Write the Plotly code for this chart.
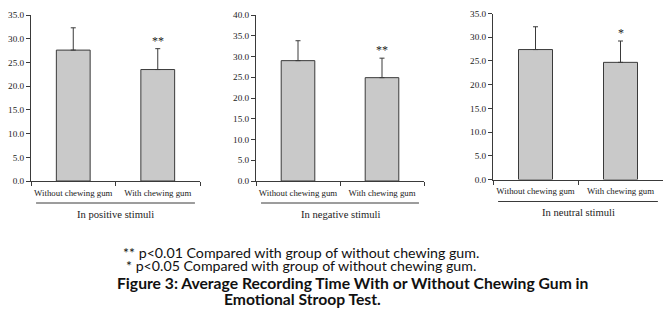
import plotly.graph_objects as go

categories = ["Without chewing gum", "With chewing gum"]
panel_titles = ["In positive stimuli", "In negative stimuli", "In neutral stimuli"]
positive_means = [27.6, 23.5]
positive_sd = [4.7, 4.4]
negative_means = [29.0, 24.9]
negative_sd = [4.8, 4.7]
neutral_means = [27.4, 24.7]
neutral_sd = [4.8, 4.5]
significance = [["", "**"], ["", "**"], ["", "*"]]
y_ranges = [[0, 35], [0, 40], [0, 35]]
footnotes = ["** p<0.01 Compared with group of without chewing gum.",
             "* p<0.05 Compared with group of without chewing gum."]
caption = ["Figure 3: Average Recording Time With or Without Chewing Gum in",
           "Emotional Stroop Test."]

W, H = 670, 327
means = [positive_means, negative_means, neutral_means]
sds = [positive_sd, negative_sd, neutral_sd]

# pixel layout of each panel: (x0, x1, ybottom, ytop)
panels_px = [(31, 200, 181, 15), (256, 424, 181, 15), (493, 663, 179.5, 13.5)]

serif = "Liberation Serif, Times New Roman, serif"
fig = go.Figure()
for i in range(3):
    ax = "" if i == 0 else str(i + 1)
    fig.add_trace(go.Bar(
        x=categories, y=means[i], xaxis="x" + ax, yaxis="y" + ax,
        marker=dict(color="#c9c9c9", line=dict(color="#3a3a3a", width=1)),
        error_y=dict(type="data", array=sds[i], arrayminus=[0, 0], symmetric=False,
                     color="#3a3a3a", thickness=1, width=2.5),
        width=0.4, showlegend=False,
    ))
    x0, x1, yb, yt = panels_px[i]
    common = dict(showline=True, linecolor="#3a3a3a", linewidth=1, ticks="outside",
                  ticklen=4, tickcolor="#3a3a3a", showgrid=False, zeroline=False,
                  automargin=False)
    fig.layout["xaxis" + ax] = dict(domain=[x0 / W, x1 / W], anchor="y" + ax,
                                    tickson="boundaries", type="category", tickangle=0,
                                    ticklabelstandoff=3,
                                    tickfont=dict(family=serif, size=8.8, color="#222"),
                                    **common)
    fig.layout["yaxis" + ax] = dict(domain=[1 - yb / H, 1 - yt / H], anchor="x" + ax,
                                    range=y_ranges[i], dtick=5, tickformat=".1f",
                                    tickfont=dict(family=serif, size=9.2, color="#222"),
                                    **common)
    # significance markers
    for c, s in enumerate(significance[i]):
        if s:
            fig.add_annotation(x=categories[c], y=means[i][c] + sds[i][c],
                               xref="x" + ax, yref="y" + ax, text=s, showarrow=False,
                               yanchor="bottom", yshift=-1,
                               font=dict(family=serif, size=12, color="#222"))
    # underline below category labels and panel title
    fig.add_shape(type="line", xref="x" + ax + " domain", yref="paper",
                  x0=0.03, x1=0.97, y0=1 - (yb + 22) / H, y1=1 - (yb + 22) / H,
                  line=dict(color="#3a3a3a", width=1))
    fig.add_annotation(xref="x" + ax + " domain", yref="paper", x=0.5,
                       y=1 - (yb + 33) / H, text=panel_titles[i], showarrow=False,
                       font=dict(family=serif, size=10.6, color="#222"))

sans = "Lato"
for k, t in enumerate(footnotes):
    fig.add_annotation(xref="paper", yref="paper", x=301 / W, y=1 - (263 + 13 * k) / H,
                       text=t, showarrow=False, font=dict(family=sans, size=14.2, color="#111"))
for k, t in enumerate(caption):
    fig.add_annotation(xref="paper", yref="paper", x=(352 if k == 0 else 302) / W,
                       y=1 - (294 + 16 * k) / H, text="<b>" + t + "</b>", showarrow=False,
                       font=dict(family=sans, size=15.7, color="#111"))

fig.update_layout(width=W, height=H, margin=dict(l=0, r=0, t=0, b=0),
                  paper_bgcolor="white", plot_bgcolor="white", bargap=0.6)
fig.write_html("out.html")
